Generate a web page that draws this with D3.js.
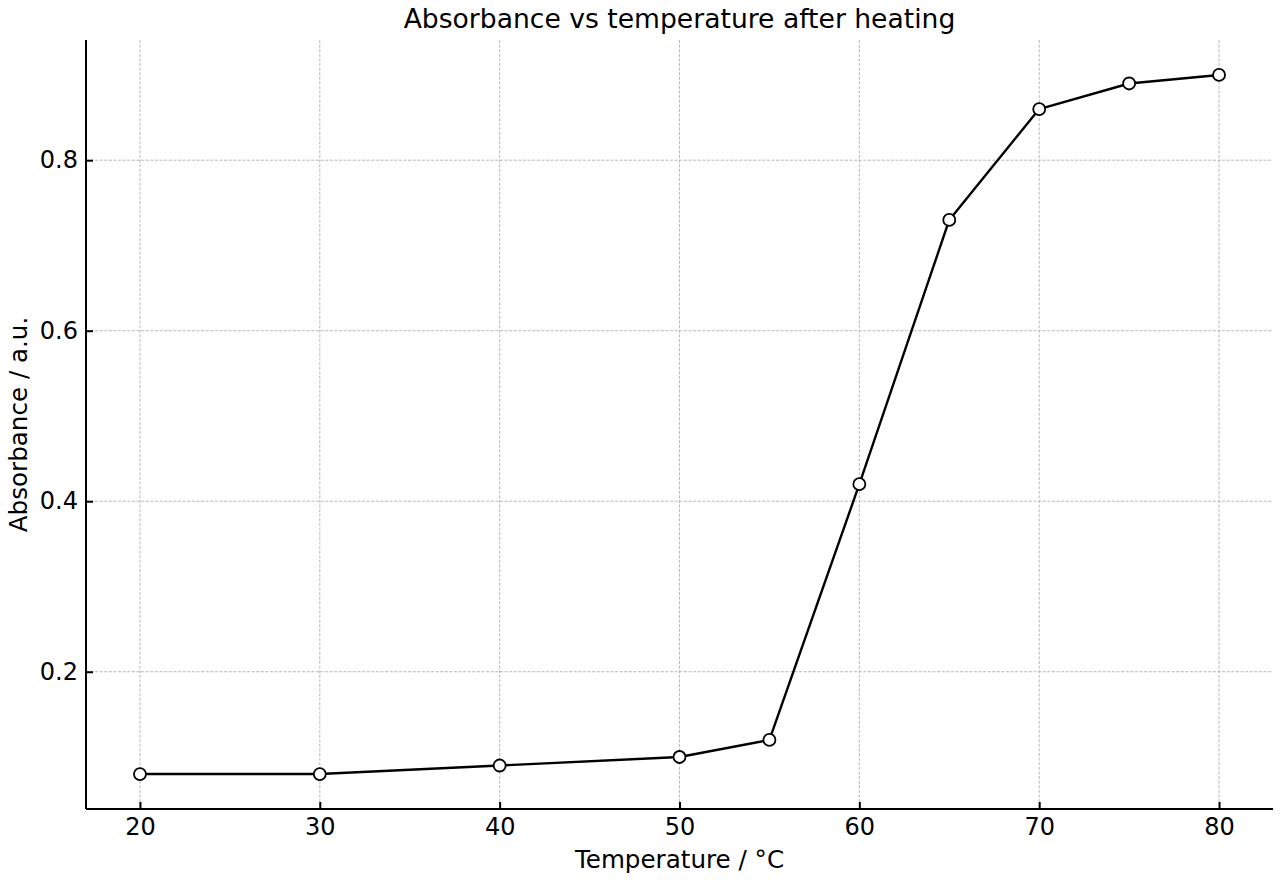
<!DOCTYPE html>
<html>
<head>
<meta charset="utf-8">
<script src="https://cdn.jsdelivr.net/npm/d3@7"></script>
<style>
  html, body { margin: 0; padding: 0; background: #fff; }
  text { font-family: "DejaVu Sans", sans-serif; fill: #000; }
</style>
</head>
<body>
<svg id="chart" width="1280" height="880"></svg>
<script>
const temperatures = [20, 30, 40, 50, 55, 60, 65, 70, 75, 80];
const absorbance = [0.08, 0.08, 0.09, 0.10, 0.12, 0.42, 0.73, 0.86, 0.89, 0.90];
const xTicks = [20, 30, 40, 50, 60, 70, 80];
const yTicks = [0.2, 0.4, 0.6, 0.8];
const titleText = "Absorbance vs temperature after heating";
const xLabel = "Temperature / °C";
const yLabel = "Absorbance / a.u.";

(function () {
const svg = d3.select("#chart");
const mLeft = 86, mRight = 1273, mTop = 40, mBottom = 809;

const x = d3.scaleLinear().domain([17, 83]).range([mLeft, mRight]);
const y = d3.scaleLinear().domain([0.039, 0.941]).range([mBottom, mTop]);

// grid
const grid = svg.append("g");
grid.selectAll("line.vx").data(xTicks).join("line")
  .attr("x1", d => x(d)).attr("x2", d => x(d))
  .attr("y1", mTop).attr("y2", mBottom)
  .attr("stroke", "#b0b0b0").attr("stroke-width", 0.9).attr("stroke-dasharray", "3,1.6");
grid.selectAll("line.hy").data(yTicks).join("line")
  .attr("y1", d => y(d)).attr("y2", d => y(d))
  .attr("x1", mLeft).attr("x2", mRight)
  .attr("stroke", "#b0b0b0").attr("stroke-width", 0.9).attr("stroke-dasharray", "3,1.6");

// axes
const xAxis = d3.axisBottom(x).tickValues(xTicks).tickFormat(d3.format("d")).tickSizeInner(-7).tickSizeOuter(0).tickPadding(9);
const gx = svg.append("g").attr("transform", `translate(0,${mBottom})`).call(xAxis);
const yAxis = d3.axisLeft(y).tickValues(yTicks).tickFormat(d3.format(".1f")).tickSizeInner(-7).tickSizeOuter(0).tickPadding(8);
const gy = svg.append("g").attr("transform", `translate(${mLeft},0)`).call(yAxis);
[gx, gy].forEach(g => {
  g.attr("font-size", 24).attr("font-family", "DejaVu Sans, sans-serif");
  g.select(".domain").attr("stroke", "#000").attr("stroke-width", 2);
  g.selectAll(".tick line").attr("stroke", "#000").attr("stroke-width", 2);
  g.selectAll(".tick text").attr("font-size", 24).attr("fill", "#000");
});
gx.select(".domain").attr("d", `M${mLeft},0H${mRight}`);
gy.select(".domain").attr("d", `M0,${mBottom}V${mTop}`);

// line
const line = d3.line().x((d, i) => x(temperatures[i])).y(d => y(d));
svg.append("path").datum(absorbance)
  .attr("d", line).attr("fill", "none").attr("stroke", "#000").attr("stroke-width", 2.4)
  .attr("stroke-linejoin", "round");

svg.append("g").selectAll("circle").data(absorbance).join("circle")
  .attr("cx", (d, i) => x(temperatures[i])).attr("cy", d => y(d))
  .attr("r", 6).attr("fill", "#fff").attr("stroke", "#000").attr("stroke-width", 1.8);

// labels
svg.append("text").attr("x", (mLeft + mRight) / 2).attr("y", 28)
  .attr("text-anchor", "middle").style("font-size", "26.6px").text(titleText);
svg.append("text").attr("x", (mLeft + mRight) / 2).attr("y", 868)
  .attr("text-anchor", "middle").style("font-size", "24.6px").text(xLabel);
svg.append("text").attr("transform", `translate(27,${(mTop + mBottom) / 2}) rotate(-90)`)
  .attr("text-anchor", "middle").style("font-size", "24.6px").text(yLabel);
})();
</script>
</body>
</html>
